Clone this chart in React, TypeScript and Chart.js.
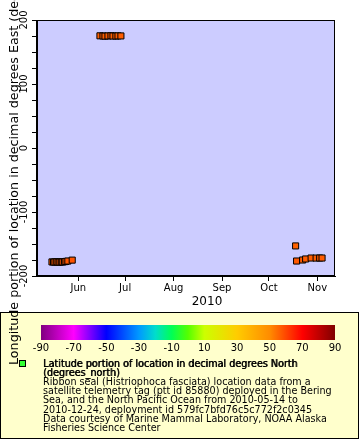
import React, { useEffect, useRef } from 'react';
import { Chart, registerables } from 'chart.js';

Chart.register(...registerables);

// ---- data ----
const times = [
  '2010-05-15T04:00Z', '2010-05-16T04:00Z', '2010-05-17T02:00Z', '2010-05-18T06:00Z',
  '2010-05-19T03:00Z', '2010-05-20T05:00Z', '2010-05-21T04:00Z', '2010-05-22T02:00Z',
  '2010-05-23T06:00Z', '2010-05-24T03:00Z', '2010-05-25T08:00Z', '2010-05-28T03:00Z',
  '2010-06-14T21:00Z', '2010-06-16T19:00Z', '2010-06-18T02:00Z', '2010-06-20T00:00Z',
  '2010-06-21T22:00Z', '2010-06-23T05:00Z', '2010-06-25T02:00Z', '2010-06-26T10:00Z',
  '2010-06-28T07:00Z',
  '2010-10-18T02:00Z', '2010-10-18T17:00Z', '2010-10-22T14:00Z', '2010-10-24T12:00Z',
  '2010-10-28T00:00Z', '2010-10-31T05:00Z', '2010-11-02T12:00Z', '2010-11-04T00:00Z',
];
const lons = [
  -178.0, -178.3, -178.1, -177.8, -178.4, -178.2, -177.9, -178.1, -177.6, -177.2, -176.6, -175.2,
  175.3, 175.0, 174.8, 175.1, 175.4, 175.0, 174.9, 175.2, 175.1,
  -153.0, -176.6, -175.0, -173.4, -171.9, -172.0, -171.9, -171.9,
];
const lats = [
  57.2, 57.3, 57.1, 57.4, 57.3, 57.5, 57.2, 57.4, 57.6, 57.5, 57.8, 58.1,
  56.5, 56.6, 56.4, 56.7, 56.8, 56.5, 56.6, 56.7, 56.9,
  56.2, 57.4, 57.2, 57.0, 56.8, 56.9, 57.0, 57.1,
];

const monthTickDates = ['2010-06-01T00:00Z', '2010-07-01T00:00Z', '2010-08-01T00:00Z', '2010-09-01T00:00Z', '2010-10-01T00:00Z', '2010-11-01T00:00Z'];
const monthTickLabels = ['Jun', 'Jul', 'Aug', 'Sep', 'Oct', 'Nov'];
const xMinDate = '2010-05-05T14:00Z';
const xMaxDate = '2010-11-12T07:00Z';
const yLabeledTicks = [-200, -100, 0, 100, 200];

const colorbarTicks = [-90, -70, -50, -30, -10, 10, 30, 50, 70, 90];
const paletteStops = [-90, -70, -50, -30, -20, -10, 0, 10, 30, 50, 70, 90];
const paletteColors = ['#800080', '#ff00ff', '#0000ff', '#0099ff', '#00ddcc', '#00ff55', '#55ff00', '#ccff00', '#ffcc00', '#ff8c00', '#ff0000', '#800000'];

const yTitle = 'Longitude portion of location in decimal degrees East (degrees_east)';
const xTitle = '2010';
const legendBold = ['Latitude portion of location in decimal degrees North', '(degrees_north)'];
const legendLines = [
  'Ribbon seal (Histriophoca fasciata) location data from a',
  'satellite telemetry tag (ptt id 85880) deployed in the Bering',
  'Sea, and the North Pacific Ocean from 2010-05-14 to',
  '2010-12-24, deployment id 579fc7bfd76c5c772f2c0345',
  'Data courtesy of Marine Mammal Laboratory, NOAA Alaska',
  'Fisheries Science Center',
];

const FONT = '"DejaVu Sans", sans-serif';

function hexToRgb(h: string) {
  return [parseInt(h.slice(1, 3), 16), parseInt(h.slice(3, 5), 16), parseInt(h.slice(5, 7), 16)];
}
function latColor(v: number) {
  for (let i = 0; i < paletteStops.length - 1; i++) {
    if (v >= paletteStops[i] && v <= paletteStops[i + 1]) {
      const t = (v - paletteStops[i]) / (paletteStops[i + 1] - paletteStops[i]);
      const a = hexToRgb(paletteColors[i]);
      const b = hexToRgb(paletteColors[i + 1]);
      const c = a.map((x, k) => Math.round(x + (b[k] - x) * t));
      return `rgb(${c[0]},${c[1]},${c[2]})`;
    }
  }
  return paletteColors[paletteColors.length - 1];
}

const decor = {
  id: 'decor',
  beforeDraw(chart: any) {
    const { ctx, chartArea: a } = chart;
    ctx.save();
    ctx.fillStyle = '#ffffff';
    ctx.fillRect(0, 0, chart.width, chart.height);
    ctx.fillStyle = '#ccccff';
    ctx.fillRect(a.left, a.top, a.right - a.left, a.bottom - a.top);

    // legend box
    ctx.fillStyle = '#ffffcc';
    ctx.fillRect(0, 312, 359, 127);
    ctx.strokeStyle = '#000';
    ctx.lineWidth = 1;
    ctx.strokeRect(0.5, 312.5, 358, 126);

    // colorbar
    const cbL = 41, cbR = 335, cbT = 325, cbB = 340;
    const g = ctx.createLinearGradient(cbL, 0, cbR, 0);
    paletteStops.forEach((s, i) => g.addColorStop((s + 90) / 180, paletteColors[i]));
    ctx.fillStyle = g;
    ctx.fillRect(cbL, cbT, cbR - cbL, cbB - cbT);
    ctx.fillStyle = '#000';
    ctx.font = `10px ${FONT}`;
    ctx.textAlign = 'center';
    ctx.textBaseline = 'middle';
    colorbarTicks.forEach((v) => {
      ctx.fillText(String(v), cbL + ((v + 90) / 180) * (cbR - cbL), 348.5);
    });

    // legend marker
    ctx.fillStyle = '#33ff33';
    ctx.fillRect(20, 361, 5, 5);
    ctx.strokeStyle = '#000';
    ctx.strokeRect(19.5, 360.5, 6, 6);

    // legend text
    ctx.fillStyle = '#000';
    ctx.textAlign = 'left';
    ctx.textBaseline = 'alphabetic';
    ctx.font = `9.6px ${FONT}`;
    let y = 366.5;
    legendBold.forEach((s) => {
      ctx.fillText(s, 43, y);
      ctx.fillText(s, 43.6, y);
      y += 9.2;
    });
    legendLines.forEach((s) => {
      ctx.fillText(s, 43, y);
      y += 9.2;
    });
    ctx.restore();
  },
  afterDraw(chart: any) {
    const { ctx, chartArea: a } = chart;
    ctx.save();
    ctx.strokeStyle = '#000';
    ctx.lineWidth = 1;
    ctx.strokeRect(Math.round(a.left) - 0.5, Math.round(a.top) + 0.5, Math.round(a.right - a.left), Math.round(a.bottom - a.top) - 1);

    ctx.fillStyle = '#000';
    ctx.font = `12px ${FONT}`;
    ctx.textAlign = 'center';
    ctx.textBaseline = 'middle';
    ctx.fillText(xTitle, 207, 301.5);

    ctx.font = `12.7px ${FONT}`;
    ctx.translate(17.5, 365);
    ctx.rotate(-Math.PI / 2);
    ctx.textAlign = 'left';
    ctx.textBaseline = 'alphabetic';
    ctx.fillText(yTitle, 0, 0);
    ctx.restore();
  },
};

export default function App() {
  const ref = useRef<HTMLCanvasElement | null>(null);
  useEffect(() => {
    if (!ref.current) return;
    const pts = times.map((t, i) => ({ x: Date.parse(t), y: lons[i] }));
    const colors = lats.map(latColor);
    const monthValues = monthTickDates.map((d) => Date.parse(d));
    const chart = new Chart(ref.current, {
      type: 'scatter',
      data: {
        datasets: [
          {
            data: pts,
            pointStyle: 'rect',
            pointRadius: 4.3,
            pointHoverRadius: 4.3,
            pointBackgroundColor: colors,
            pointBorderColor: '#000',
            pointBorderWidth: 1,
          },
        ],
      },
      options: {
        animation: false,
        responsive: false,
        events: [],
        layout: { padding: { left: 0, top: 20, right: 25, bottom: 130 } },
        plugins: { legend: { display: false }, tooltip: { enabled: false } },
        scales: {
          x: {
            type: 'linear',
            min: Date.parse(xMinDate),
            max: Date.parse(xMaxDate),
            afterBuildTicks: (s: any) => {
              s.ticks = monthValues.map((v) => ({ value: v }));
            },
            afterFit: (s: any) => {
              s.height = 34;
            },
            ticks: {
              autoSkip: false,
              maxRotation: 0,
              minRotation: 0,
              padding: 1,
              color: '#000',
              font: { family: FONT, size: 10 },
              callback: (_v: any, i: number) => monthTickLabels[i],
            },
            grid: { display: true, drawOnChartArea: false, drawTicks: true, tickLength: 5, color: '#000', tickColor: '#000' },
            border: { display: true, color: '#000', width: 1 },
          },
          y: {
            type: 'linear',
            min: -200,
            max: 200,
            afterFit: (s: any) => {
              s.width = 37;
            },
            ticks: {
              stepSize: 25,
              autoSkip: false,
              minRotation: 90,
              maxRotation: 90,
              crossAlign: 'center',
              padding: -3.5,
              color: '#000',
              font: { family: FONT, size: 10 },
              callback: (v: any) => (yLabeledTicks.includes(Number(v)) ? String(v) : ''),
            },
            grid: { display: true, drawOnChartArea: false, drawTicks: true, tickLength: 5, color: '#000', tickColor: '#000' },
            border: { display: true, color: '#000', width: 1 },
          },
        },
      },
      plugins: [decor],
    } as any);
    return () => chart.destroy();
  }, []);
  return (
    <div style={{ position: 'fixed', left: 0, top: 0, width: 360, height: 440 }}>
      <canvas ref={ref} width={360} height={440} style={{ width: 360, height: 440, display: 'block' }} />
    </div>
  );
}
